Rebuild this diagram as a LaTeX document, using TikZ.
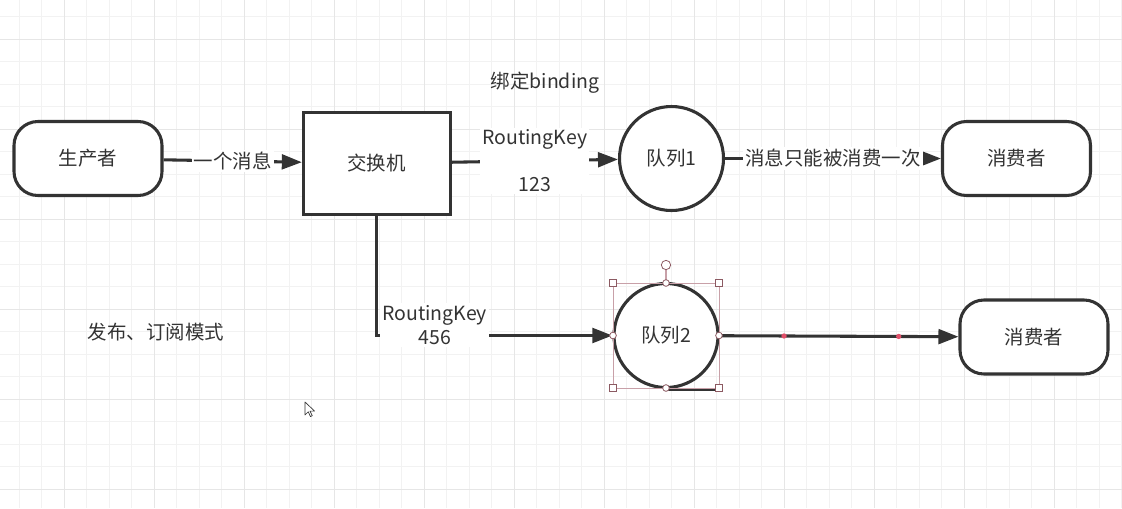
\documentclass[tikz,border=0pt]{standalone}
\usepackage{fontspec}
\setmainfont{Noto Sans CJK SC}
\usetikzlibrary{arrows.meta,calc}

\definecolor{ink}{HTML}{333333}
\definecolor{gridminor}{HTML}{F2F2F2}
\definecolor{gridmajor}{HTML}{E6E6E6}
\definecolor{selframe}{HTML}{C8A0A8}
\definecolor{selhandle}{HTML}{8C5A62}
\definecolor{waydot}{HTML}{E0506A}

\newcommand{\diagfont}{\fontsize{14.6}{18}\selectfont}

\tikzset{
    shapebox/.style={draw=ink, line width=2.3pt, fill=white, text=ink,
        font=\diagfont, inner sep=0pt},
    pill/.style={shapebox, rounded corners=18pt, minimum width=111pt,
        minimum height=55.5pt},
    exchbox/.style={shapebox, minimum width=110pt, minimum height=76.5pt},
    queuebox/.style={shapebox, circle, minimum size=78pt},
    flow/.style={draw=ink, line width=2.3pt, -{Triangle[length=15pt,width=11pt]}},
    tag/.style={fill=white, text=ink, font=\diagfont, inner sep=1.5pt},
    freetext/.style={text=ink, font=\diagfont},
    corner/.style={draw=selhandle, fill=white, line width=0.6pt,
        minimum size=5.2pt, inner sep=0pt},
    midhandle/.style={draw=selhandle, fill=white, circle, line width=0.6pt,
        minimum size=5pt, inner sep=0pt},
    waypoint/.style={fill=waydot, circle, minimum size=4pt, inner sep=0pt},
}

\begin{document}
\begin{tikzpicture}[x=0.75pt, y=-0.75pt]

    \useasboundingbox (0,0) rectangle (1122,508);

    % 背景のグリッド
    \foreach \gx in {0,...,49} {
        \draw[gridminor, line width=0.75pt] ({19+22.5*\gx},0) -- ++(0,508);
    }
    \foreach \gy in {0,...,21} {
        \draw[gridminor, line width=0.75pt] (0,{16.8+22.5*\gy}) -- ++(1122,0);
    }
    \foreach \gx in {0,...,11} {
        \draw[gridmajor, line width=0.75pt] ({64+90*\gx},0) -- ++(0,508);
    }
    \foreach \gy in {0,...,5} {
        \draw[gridmajor, line width=0.75pt] (0,{39.3+90*\gy}) -- ++(1122,0);
    }

    % ノード
    \node[pill] (producer) at (88,158.5) {生产者};
    \node[exchbox] (exchange) at (376.7,163.5) {交换机};
    \node[queuebox] (queueA) at (671.5,158.5) {队列1};
    \node[pill] (consumerA) at (1016.5,158.5) {消费者};
    \node[queuebox] (queueB) at (666,335.5) {队列2};
    \node[pill] (consumerB) at (1034,337) {消费者};

    % 队列2 の下の線
    \draw[ink, line width=2.3pt] (queueB.south) -- (queueB.east |- queueB.south);

    % 文字
    \node[freetext] (bindlabel) at (545,83) {绑定binding};
    \node[freetext] (modelabel) at (156,332) {发布、订阅模式};

    % 矢印
    \draw[flow] (producer) -- node[tag] {一个消息} (exchange);
    \draw[flow] (exchange) -- node[tag, align=center] {RoutingKey\\[17pt]123} (queueA);
    \draw[flow] (queueA) -- node[tag] {消息只能被消费一次} (consumerA);
    \draw[flow] (exchange.south) |- node[tag, align=center, pos=0.623, yshift=8pt]
        {RoutingKey\\456} (queueB.west);
    \draw[flow] (queueB) -- node[waypoint, pos=0.27] {} node[waypoint, pos=0.75] {}
        (consumerB);

    % 選択枠
    \coordinate (selNW) at (613,283);
    \coordinate (selSE) at (719,388);
    \coordinate (rothandle) at (666,265);
    \draw[selframe, line width=0.6pt] (selNW) rectangle (selSE);
    \draw[selframe, line width=0.8pt] (rothandle) -- (666,283);
    \node[midhandle, minimum size=7pt] at (rothandle) {};
    \foreach \hp in {(613,283),(719,283),(613,388),(719,388)} {
        \node[corner] at \hp {};
    }
    \foreach \hp in {(666,283),(666,388),(613,335.5),(719,335.5)} {
        \node[midhandle] at \hp {};
    }

    % マウスカーソル
    \draw[ink, fill=white, line width=0.5pt, line join=round] (305,402) -- ++(0,13)
        -- ++(3.2,-3.2) -- ++(2.3,4.8) -- ++(1.8,-0.9) -- ++(-2.3,-4.6)
        -- ++(4.6,0) -- cycle;

\end{tikzpicture}
\end{document}
